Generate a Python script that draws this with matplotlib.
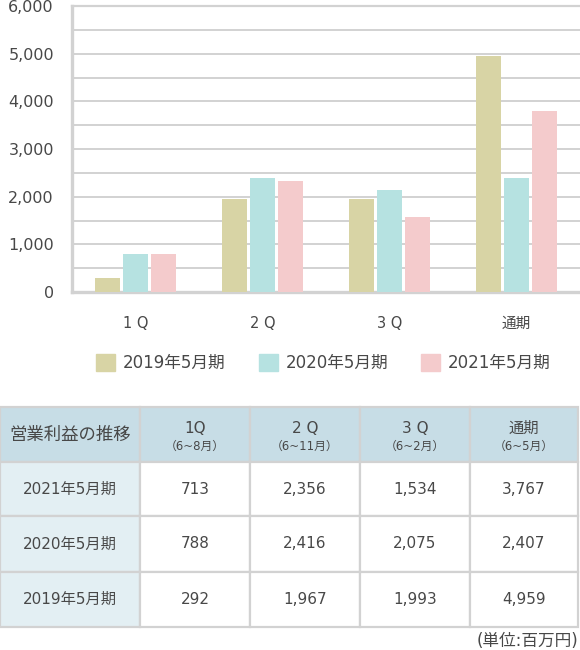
import matplotlib
matplotlib.use("Agg")
import matplotlib.pyplot as plt
from matplotlib.patches import Rectangle

plt.rcParams['font.family'] = ['DejaVu Sans', 'Noto Sans CJK JP']

# bar chart values
categories = ["1 Q", "2 Q", "3 Q", "通期"]
series_names = ["2019年5月期", "2020年5月期", "2021年5月期"]
bars_2019 = [300, 1950, 1950, 4950]
bars_2020 = [790, 2400, 2130, 2400]
bars_2021 = [790, 2320, 1570, 3790]
colors = ["#d8d4a5", "#b6e2e1", "#f4cbcc"]

# table values
table_title = "営業利益の推移"
col_heads = ["1Q", "2 Q", "3 Q", "通期"]
col_subs = ["（6~8月）", "（6~11月）", "（6~2月）", "（6~5月）"]
row_names = ["2021年5月期", "2020年5月期", "2019年5月期"]
table_rows = [
    ["713", "2,356", "1,534", "3,767"],
    ["788", "2,416", "2,075", "2,407"],
    ["292", "1,967", "1,993", "4,959"],
]
unit_note = "(単位:百万円)"

TXT = "#484848"
GRID = "#d2d2d2"
W, H = 580, 650

fig = plt.figure(figsize=(5.8, 6.5), dpi=100)

# ---- bar chart ----
ax = fig.add_axes([72 / W, 1 - 292 / H, (W - 72) / W, (292 - 6) / H])
series = [bars_2019, bars_2020, bars_2021]
offsets = [-0.22, 0, 0.22]
for vals, off, c in zip(series, offsets, colors):
    ax.bar([i + off for i in range(len(categories))], vals, width=0.19,
           color=c, zorder=3)

ax.set_xlim(-0.5, len(categories) - 0.5)
ax.set_ylim(0, 6000)
ax.set_yticks(range(0, 6001, 1000))
ax.set_yticks(range(0, 6001, 500), minor=True)
ax.set_yticklabels([f"{v:,}" for v in range(0, 6001, 1000)])
ax.grid(axis="y", which="both", color=GRID, linewidth=1.4, zorder=0)
ax.set_xticks(range(len(categories)))
ax.set_xticklabels(categories)
ax.tick_params(axis="x", length=0, pad=17, labelsize=10.5, labelcolor=TXT)
ax.tick_params(axis="y", which="both", length=0, pad=13, labelsize=11.5,
               labelcolor=TXT)
ax.spines["right"].set_visible(False)
for s in ["left", "bottom", "top"]:
    ax.spines[s].set_color(GRID)
    ax.spines[s].set_linewidth(2.4)
ax.spines["top"].set_linewidth(1.6)

handles = [Rectangle((0, 0), 1, 1, color=c) for c in colors]
fig.legend(handles, series_names, loc="center left", ncol=3,
           bbox_to_anchor=(96 / W, 1 - 363 / H), frameon=False,
           borderpad=0, borderaxespad=0,
           fontsize=12, labelcolor=TXT, handlelength=1.15, handleheight=1.15,
           handletextpad=0.45, columnspacing=2.0)

# ---- table ----
tax = fig.add_axes([0, 0, 1, 1])
tax.set_xlim(0, W)
tax.set_ylim(H, 0)
tax.axis("off")

col_edges = [0, 140, 250, 360, 470, 578]
row_edges = [407, 462, 516, 572, 627]
head_bg = "#c7dde6"
first_bg = "#e3eff3"

for r in range(len(row_edges) - 1):
    for c in range(len(col_edges) - 1):
        if r == 0:
            fc = head_bg
        elif c == 0:
            fc = first_bg
        else:
            fc = "white"
        tax.add_patch(Rectangle((col_edges[c], row_edges[r]),
                                col_edges[c + 1] - col_edges[c],
                                row_edges[r + 1] - row_edges[r],
                                facecolor=fc, edgecolor=GRID, linewidth=1.6))

def cx(c):
    return (col_edges[c] + col_edges[c + 1]) / 2

def cy(r):
    return (row_edges[r] + row_edges[r + 1]) / 2

tax.text(cx(0), cy(0), table_title, ha="center", va="center",
         fontsize=12.5, color=TXT)
for i, (h, s) in enumerate(zip(col_heads, col_subs)):
    tax.text(cx(i + 1), cy(0) - 6, h, ha="center", va="center",
             fontsize=11, color=TXT)
    tax.text(cx(i + 1), cy(0) + 12, s, ha="center", va="center",
             fontsize=8.5, color=TXT)
for r, (name, vals) in enumerate(zip(row_names, table_rows)):
    tax.text(cx(0), cy(r + 1), name, ha="center", va="center",
             fontsize=11, color=TXT)
    for c, v in enumerate(vals):
        tax.text(cx(c + 1), cy(r + 1), v, ha="center", va="center",
                 fontsize=11, color=TXT)

tax.text(578, 641, unit_note, ha="right", va="center", fontsize=12,
         color=TXT)

fig.savefig("out.png", dpi=100)
